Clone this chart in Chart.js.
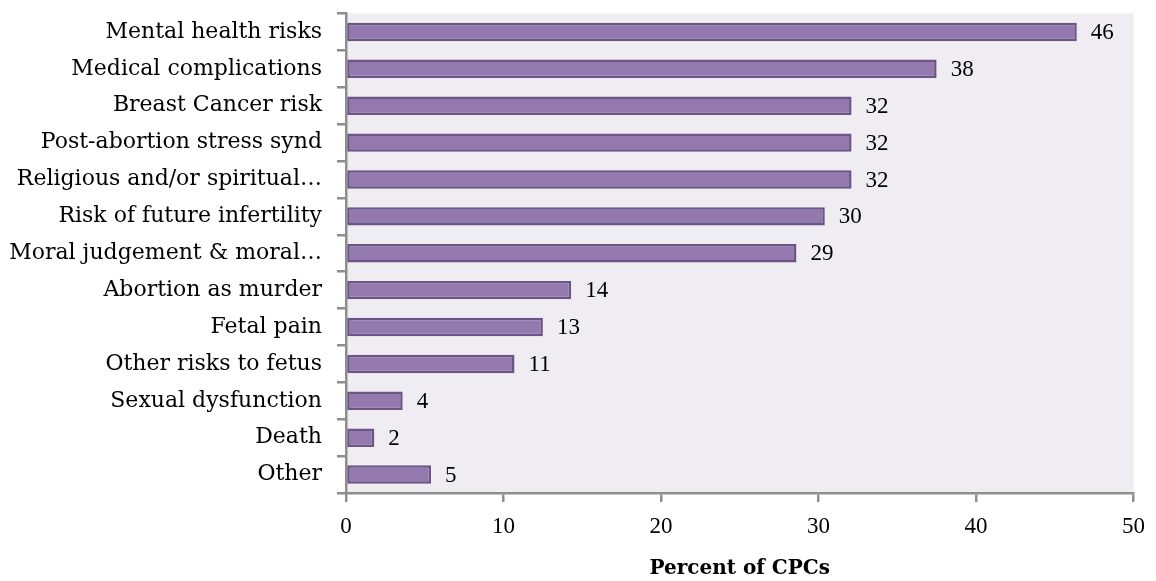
<!DOCTYPE html>
<html>
<head>
<meta charset="utf-8">
<script src="https://cdn.jsdelivr.net/npm/chart.js@4/dist/chart.umd.min.js"></script>
<style>
  body { margin: 0; background: #fff; }
  #wrap { width: 1156px; height: 581px; }
</style>
</head>
<body>
<div id="wrap"><canvas id="barChart"></canvas></div>
<script>
const categories = [
  'Mental health risks',
  'Medical complications',
  'Breast Cancer risk',
  'Post-abortion stress synd',
  'Religious and/or spiritual…',
  'Risk of future infertility',
  'Moral judgement & moral…',
  'Abortion as murder',
  'Fetal pain',
  'Other risks to fetus',
  'Sexual dysfunction',
  'Death',
  'Other'
];
const percentValues = [46.4, 37.5, 32.1, 32.1, 32.1, 30.4, 28.6, 14.3, 12.5, 10.7, 3.6, 1.8, 5.4];
const xTicks = [0, 10, 20, 30, 40, 50];
const axisTitle = 'Percent of CPCs';

const serif = "'DejaVu Serif', serif";
const numSerif = "'Liberation Serif', serif";

// plot area background
const plotBg = {
  id: 'plotBg',
  beforeDraw(chart) {
    const a = chart.chartArea;
    const ctx = chart.ctx;
    ctx.save();
    ctx.fillStyle = '#EFECF2';
    ctx.fillRect(a.left, a.top, a.right - a.left, a.bottom - a.top);
    ctx.restore();
  }
};

// value labels right of each bar
const valueLabels = {
  id: 'valueLabels',
  afterDatasetsDraw(chart) {
    const ctx = chart.ctx;
    const meta = chart.getDatasetMeta(0);
    ctx.save();
    ctx.font = '23px ' + numSerif;
    ctx.fillStyle = '#000';
    ctx.textAlign = 'left';
    ctx.textBaseline = 'middle';
    meta.data.forEach(function (bar, i) {
      ctx.fillText(String(Math.round(percentValues[i])), bar.x + 14, bar.y + 1);
    });
    ctx.restore();
  }
};

new Chart(document.getElementById('barChart'), {
  type: 'bar',
  data: {
    labels: categories,
    datasets: [
      {
        data: percentValues,
        backgroundColor: '#9479AF',
        borderColor: '#6B5586',
        borderWidth: 2.5,
        borderSkipped: false,
        barPercentage: 0.5,
        categoryPercentage: 1
      }
    ]
  },
  options: {
    indexAxis: 'y',
    responsive: true,
    maintainAspectRatio: false,
    animation: false,
    layout: { padding: { top: 13.5, right: 6, left: 0, bottom: 0 } },
    plugins: {
      legend: { display: false },
      tooltip: { enabled: false }
    },
    scales: {
      x: {
        min: 0,
        max: 50,
        afterBuildTicks(axis) {
          axis.ticks = xTicks.map(function (v) { return { value: v }; });
        },
        afterFit(axis) {
          axis.height = 88;
        },
        grid: {
          drawOnChartArea: false,
          drawTicks: true,
          tickLength: 9,
          color: '#8E8E8E',
          lineWidth: 2.5
        },
        border: { color: '#8E8E8E', width: 2.5 },
        ticks: {
          color: '#000',
          font: { family: numSerif, size: 23 },
          padding: 11,
          maxRotation: 0
        },
        title: {
          display: true,
          text: axisTitle,
          color: '#000',
          font: { family: serif, size: 20, weight: 'bold' },
          padding: { top: 16, bottom: 0 }
        }
      },
      y: {
        afterFit(axis) {
          axis.width = 346;
          axis.paddingTop = 0;
          axis.paddingBottom = 0;
        },
        grid: {
          drawOnChartArea: false,
          drawTicks: true,
          tickLength: 9,
          offset: true,
          color: '#8E8E8E',
          lineWidth: 2.5
        },
        border: { color: '#8E8E8E', width: 2.5 },
        ticks: {
          color: '#000',
          font: { family: serif, size: 22 },
          padding: 15,
          autoSkip: false
        }
      }
    }
  },
  plugins: [plotBg, valueLabels]
});
</script>
</body>
</html>
